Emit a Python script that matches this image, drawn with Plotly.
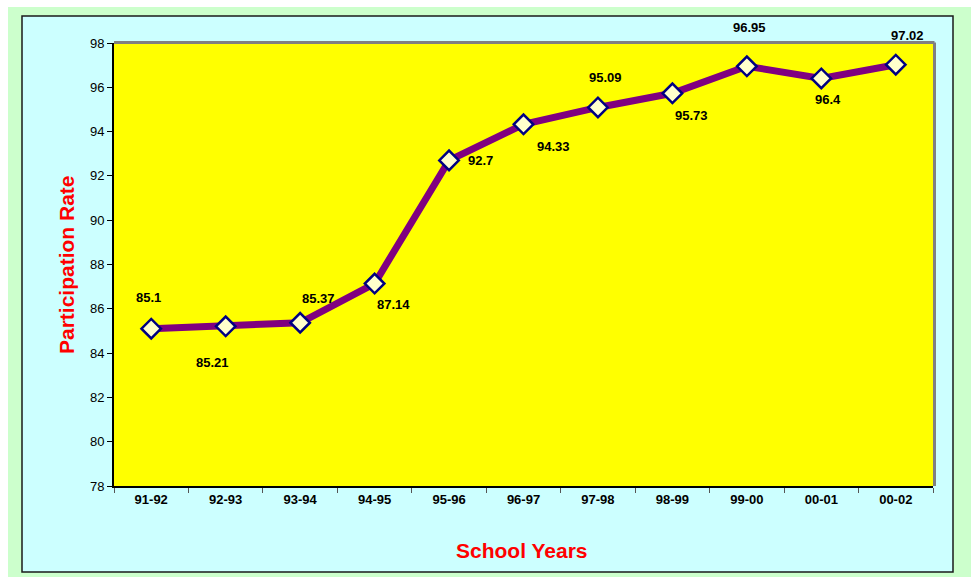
import plotly.graph_objects as go

years = ["91-92", "92-93", "93-94", "94-95", "95-96", "96-97", "97-98", "98-99", "99-00", "00-01", "00-02"]
rates = [85.1, 85.21, 85.37, 87.14, 92.7, 94.33, 95.09, 95.73, 96.95, 96.4, 97.02]
labels = ["85.1", "85.21", "85.37", "87.14", "92.7", "94.33", "95.09", "95.73", "96.95", "96.4", "97.02"]
y_ticks = [78, 80, 82, 84, 86, 88, 90, 92, 94, 96, 98]

# label offsets in pixels (style)
label_dx = [-3, -13, 18, 19, 31, 30, 8, 19, 3, 7, 12]
label_dy = [31, -36, 24, -21, 0, -22, 30, -22, 39, -21, 29]

W, H = 971, 577
ML, MR, MT, MB = 114, 38, 43, 91
PW, PH = W - ML - MR, H - MT - MB


def px(x):
    return (x - ML) / PW


def py(y):
    return (H - MB - y) / PH


FONT = "Liberation Sans, Arial, sans-serif"

fig = go.Figure()
fig.add_trace(go.Scatter(
    x=years, y=rates, mode="lines+markers",
    line=dict(color="#800080", width=7),
    marker=dict(symbol="diamond", size=15, color="#FFFFCC",
                line=dict(color="#000080", width=2.5)),
    hoverinfo="x+y", showlegend=False, cliponaxis=False,
))

annotations = []
for x, y, t, dx, dy in zip(years, rates, labels, label_dx, label_dy):
    annotations.append(dict(x=x, y=y, xref="x", yref="y", text="<b>%s</b>" % t,
                            showarrow=False, xshift=dx, yshift=dy,
                            xanchor="center", yanchor="middle",
                            font=dict(family=FONT, size=13, color="black")))
annotations.append(dict(x=px(522), y=py(550), xref="paper", yref="paper",
                        xanchor="center", yanchor="middle",
                        text="<b>School Years</b>", showarrow=False,
                        font=dict(family=FONT, size=21, color="#FF0000")))
annotations.append(dict(x=px(66), y=py(265), xref="paper", yref="paper",
                        xanchor="center", yanchor="middle",
                        text="<b>Participation Rate</b>", showarrow=False, textangle=-90,
                        font=dict(family=FONT, size=21, color="#FF0000")))

shapes = [
    dict(type="rect", xref="paper", yref="paper", x0=px(8), x1=px(971), y0=py(577), y1=py(7),
         fillcolor="#CCFFCC", line=dict(width=0), layer="below"),
    dict(type="rect", xref="paper", yref="paper", x0=px(22), x1=px(953), y0=py(572), y1=py(16),
         fillcolor="#CCFFFF", line=dict(color="#1a1a1a", width=1.5), layer="below"),
    dict(type="rect", xref="paper", yref="paper", x0=0, x1=1, y0=0, y1=1,
         fillcolor="#FFFF00", line=dict(width=0), layer="below"),
    dict(type="line", xref="paper", yref="paper", x0=0, x1=px(934.5), y0=py(42.5), y1=py(42.5),
         line=dict(color="#808080", width=3), layer="below"),
    dict(type="line", xref="paper", yref="paper", x0=px(934.5), x1=px(934.5), y0=0, y1=py(42.5),
         line=dict(color="#808080", width=3), layer="below"),
]

fig.update_layout(
    width=W, height=H,
    margin=dict(l=ML, r=MR, t=MT, b=MB),
    paper_bgcolor="white", plot_bgcolor="#FFFF00",
    shapes=shapes, annotations=annotations,
    font=dict(family=FONT, size=13, color="black"),
    xaxis=dict(type="category", tickson="boundaries", ticks="outside", ticklen=5,
               tickcolor="#555555", showline=True, linecolor="black", linewidth=2,
               showgrid=False, zeroline=False, tickfont=dict(family=FONT, size=13, color="black"),
               tickprefix="<b>", ticksuffix="</b>", range=[-0.5, 10.5]),
    yaxis=dict(range=[78, 98], tickvals=y_ticks, ticks="outside", ticklen=5,
               tickcolor="black", showline=True, linecolor="black", linewidth=2,
               showgrid=False, zeroline=False, tickfont=dict(family=FONT, size=13, color="black"),
               tickprefix="<b>", ticksuffix="</b>"),
)

fig.write_html("out.html")
